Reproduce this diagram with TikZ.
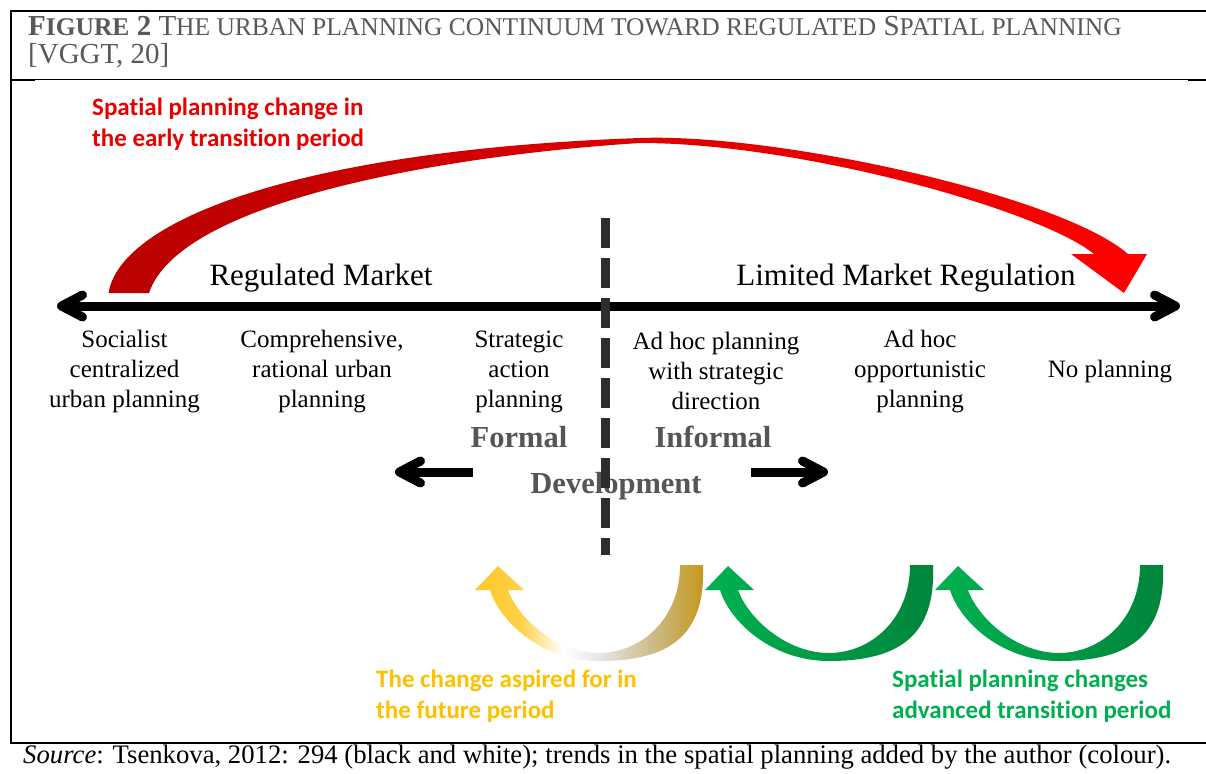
\documentclass[tikz,border=0pt]{standalone}
\usepackage{fontspec}
\setmainfont{Liberation Serif}
\newfontfamily\calibfont[Ligatures=NoCommon]{Carlito}
\usepackage{xcolor}
\usetikzlibrary{arrows.meta}

\definecolor{headgray}{RGB}{89,89,89}
\definecolor{formalgray}{RGB}{85,85,85}
\definecolor{dashgray}{RGB}{45,45,45}
\definecolor{notered}{RGB}{232,0,0}
\definecolor{arcdark}{RGB}{185,0,0}
\definecolor{arcbright}{RGB}{255,0,0}
\definecolor{noteyellow}{RGB}{255,192,0}
\definecolor{futyel}{RGB}{255,200,40}
\definecolor{futtan}{RGB}{205,188,140}
\definecolor{futgold}{RGB}{196,150,20}
\definecolor{notegreen}{RGB}{0,176,80}
\definecolor{grnlt}{RGB}{0,178,80}
\definecolor{grnmid}{RGB}{0,160,72}
\definecolor{grndk}{RGB}{0,132,60}

\pgfdeclarehorizontalshading{futshade}{100bp}{color(0bp)=(futyel); color(25bp)=(futyel);
   color(35bp)=(futyel!85!white); color(44bp)=(white); color(52bp)=(black!10);
   color(63bp)=(futtan); color(75bp)=(futgold); color(100bp)=(futgold)}

\newcommand\smallcap[1]{{\fontsize{25.5}{25.5}\selectfont #1}}

\begin{document}
\begin{tikzpicture}[
      x=1pt, y=-1pt,
      mylabel/.style={
         align=center,
         inner sep=0pt,
         font=\fontsize{25}{30}\selectfont},
      mymarket/.style={anchor=base, inner sep=0pt, font=\fontsize{31}{36}\selectfont},
      myformal/.style={anchor=base, inner sep=0pt, text=formalgray,
         font=\bfseries\fontsize{30.5}{36}\selectfont},
      mynote/.style={anchor=west, align=left, inner sep=0pt,
         font=\calibfont\bfseries\fontsize{25}{30.5}\selectfont},
      myaxis/.style={line width=9pt,
         {Straight Barb[length=21pt,width=22pt,round]}-{Straight Barb[length=21pt,width=22pt,round]}},
      myarrow/.style={line width=9pt, -{Straight Barb[length=21pt,width=22pt,round]}},
      mydash/.style={line width=9pt, draw=dashgray, dash pattern=on 30pt off 10pt},
      futu/.style={shading=futshade},
      grnu/.style={left color=grnlt, middle color=grnmid, right color=grndk}
      ]
\useasboundingbox (0,0) rectangle (1206,773);
\fill[white] (0,0) rectangle (1206,773);

% frame
\draw[line width=2pt] (10,11) -- (1206,11);
\draw[line width=1pt] (11,80) -- (1206,80);
\draw[line width=2.5pt] (11,80) -- (35,80) (1188,80) -- (1206,80);
\draw[line width=2pt] (11,10) -- (11,744);
\draw[line width=2.5pt] (10,743) -- (1206,743);

\node[anchor=west, align=left, inner sep=0pt, text=headgray,
      font=\fontsize{29}{28}\selectfont] (title) at (28,41.7)
   {\textbf{F\smallcap{IGURE} 2} T\smallcap{HE URBAN PLANNING CONTINUUM TOWARD REGULATED} S\smallcap{PATIAL PLANNING}\\ {[}VGGT, 20]};

\node[anchor=base west, inner sep=0pt, font=\fontsize{26.7}{30}\selectfont] (source) at (23,763)
   {\textit{Source}: Tsenkova, 2012: 294 (black and white); trends in the spatial planning added by the author (colour).};

% red arc
\shade[left color=arcdark, right color=arcbright]
   (108.6,293) .. controls (120,220) and (300,150) .. (640,138)
   .. controls (776,133) and (1060,195) .. (1128,254)
   -- (1147,254) -- (1124,293) -- (1071,254) -- (1094,254)
   .. controls (1040,210) and (800,143) .. (640,143)
   .. controls (450,155) and (180,200) .. (149,293) -- cycle;

\node[mynote, text=notered] (rednote) at (92,124) {Spatial planning change in\\the early transition period};

\node[mymarket] (regmkt) at (321,285) {Regulated Market};
\node[mymarket] (limmkt) at (906,285) {Limited Market Regulation};

\coordinate (axL) at (57,306);
\coordinate (axR) at (1180,306);
\draw[myaxis] (axL) -- (axR);

\node[mylabel] (socialist) at (124.5,372) {Socialist\\centralized\\urban planning};
\node[mylabel] (compre)    at (322,372)   {Comprehensive,\\rational urban\\planning};
\node[mylabel] (strat)     at (519,372)   {Strategic\\action\\planning};
\node[mylabel] (adhocdir)  at (716,371)   {Ad hoc planning\\with strategic\\direction};
\node[mylabel] (adhoc)     at (920,372)   {Ad hoc\\opportunistic\\planning};
\node[mylabel] (noplan)    at (1110,372)  {No planning};

\node[myformal] (formal)   at (519,447) {Formal};
\node[myformal] (informal) at (713,447) {Informal};
\node[myformal] (devel)    at (616,493) {Development};

\coordinate (fS) at (473,472);
\coordinate (fE) at (395,472);
\coordinate (iS) at (751,472);
\coordinate (iE) at (828,472);
\foreach \i/\j in {% start/end
      fS/fE,iS/iE}
       \draw[myarrow] (\i) -- (\j);

\coordinate (dTop) at (605,218);
\coordinate (dBot) at (605,555);
\draw[mydash] (dTop) -- (dBot);

% U shaped arrows
\foreach \dx/\sh in {-230/futu, 0/grnu, 230/grnu}
   \shade[xshift=\dx, \sh]
      (933,565) .. controls (936,635) and (900,661) .. (829,661)
      .. controls (772,661) and (730,622) .. (720,590)
      -- (705,590) -- (728,566) -- (754,590) -- (738,590)
      .. controls (748,618) and (786,653) .. (829,653)
      .. controls (870,653) and (910,620) .. (910,565) -- cycle;

\node[mynote, text=noteyellow] (futnote) at (376,696) {The change aspired for in\\the future period};
\node[mynote, text=notegreen]  (advnote) at (892,696) {Spatial planning changes\\advanced transition period};

\end{tikzpicture}
\end{document}
